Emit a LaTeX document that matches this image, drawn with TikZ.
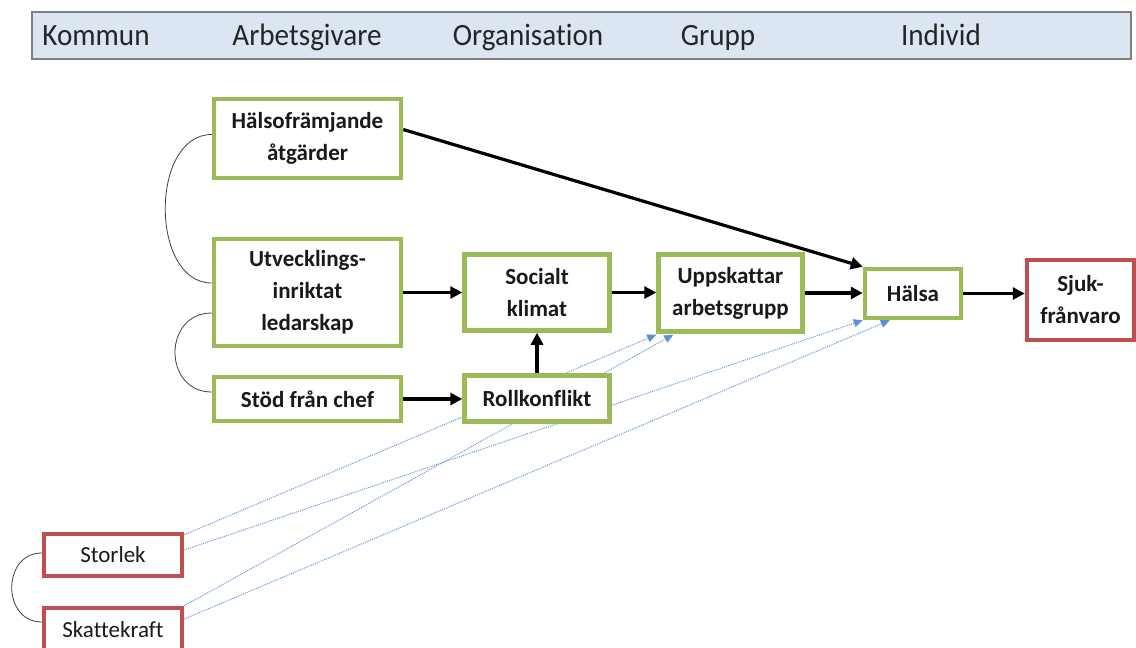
\documentclass[tikz,border=0pt]{standalone}
\usepackage{fontspec}
\setmainfont[Ligatures=NoCommon]{Carlito}
\newfontfamily\hdrfont[FakeStretch=0.94,Ligatures=NoCommon]{Carlito}
\usetikzlibrary{arrows.meta,backgrounds}
\definecolor{gbox}{HTML}{9BBB59}
\definecolor{rbox}{HTML}{C0504D}
\definecolor{hdrfill}{HTML}{DCE6F2}
\definecolor{hdrline}{HTML}{7F7F7F}
\definecolor{dotblue}{HTML}{5B8FD8}
\tikzset{
  gnode/.style={draw=gbox, line width=4.5pt, fill=white, align=center, inner sep=0pt,
    font=\bfseries\fontsize{23}{32}\selectfont, text=black!90},
  rnode/.style={draw=rbox, line width=4.5pt, fill=white, align=center, inner sep=0pt,
    font=\fontsize{23}{32}\selectfont, text=black!90},
  hdrtext/.style={font=\hdrfont\fontsize{31}{34}\selectfont, text=black!85, inner sep=0pt, anchor=base},
  conn/.style={line width=3.2pt, -{Triangle[length=12pt,width=12pt]}},
  dotconn/.style={dotblue, line width=0.9pt, dash pattern=on 1pt off 1pt,
    -{Triangle[length=9pt,width=8pt]}},
  corr/.style={line width=0.8pt, black!75},
}
\begin{document}
\begin{tikzpicture}[x=1pt,y=-1pt]
\useasboundingbox (0,0) rectangle (1136,648);
\clip (0,0) rectangle (1136,648);

% header bar
\node[draw=hdrline, fill=hdrfill, line width=1.2pt, minimum width=1099pt,
      minimum height=47pt, inner sep=0pt] (hdr) at (581.5,35.5) {};
\node[hdrtext] (h1) at (96,45) {Kommun};
\node[hdrtext] (h2) at (307,45) {Arbetsgivare};
\node[hdrtext] (h3) at (528,45) {Organisation};
\node[hdrtext] (h4) at (718,45) {Grupp};
\node[hdrtext] (h5) at (941,45) {Individ};

% boxes
\node[gnode, minimum width=187pt, minimum height=79pt] (halsofr) at (307.5,138.5) {Hälsofrämjande\\åtgärder};
\node[gnode, minimum width=187pt, minimum height=107pt] (utv) at (307.5,292.5) {Utvecklings-\\inriktat\\ledarskap};
\node[gnode, minimum width=187pt, minimum height=44pt] (stod) at (307.5,399) {Stöd från chef};
\node[gnode, minimum width=145pt, minimum height=76pt] (social) at (537,292.5) {Socialt\\klimat};
\node[gnode, minimum width=145pt, minimum height=46pt] (roll) at (537,398.5) {Rollkonflikt};
\node[gnode, minimum width=144pt, minimum height=77pt] (uppsk) at (730.5,293) {Uppskattar\\arbetsgrupp};
\node[gnode, minimum width=96pt, minimum height=49pt] (halsa) at (913,293.5) {Hälsa};
\node[rnode, font=\bfseries\fontsize{23}{32}\selectfont, minimum width=107pt, minimum height=80pt] (sjuk) at (1080.5,300) {Sjuk-\\frånvaro};
\node[rnode, minimum width=138pt, minimum height=42pt] (storlek) at (113,555) {Storlek};
\node[rnode, minimum width=138pt, minimum height=44pt] (skatt) at (113,630) {Skattekraft};

% dotted blue connectors (behind boxes)
\begin{scope}[on background layer]
\draw[dotconn] ([yshift=-3pt]storlek.north east) -- ([yshift=-1pt]uppsk.south west);
\draw[dotconn] ([yshift=5pt]storlek.east) -- (halsa.south west);
\draw[dotconn] (skatt.north east) -- ([xshift=17pt,yshift=-1pt]uppsk.south west);
\draw[dotconn] ([yshift=11pt]skatt.east) -- ([xshift=27pt]halsa.south west);
\end{scope}

% black arrows
\draw[conn] ([yshift=9pt]halsofr.east) -- (halsa.north west);
\draw[conn] (utv.east) -- (utv.east -| social.west);
\draw[conn] (stod.east) -- (stod.east -| roll.west);
\draw[conn] (roll.north) -- (social.south);
\draw[conn] (social.east) -- (social.east -| uppsk.west);
\draw[conn] (uppsk.east) -- (uppsk.east -| halsa.west);
\draw[conn] (halsa.east) -- (halsa.east -| sjuk.west);

% correlation curves
\draw[corr] ([yshift=4pt]halsofr.west) .. controls +(-62,0) and +(-62,0) .. ([yshift=9.5pt]utv.west);
\draw[corr] ([yshift=-20.5pt]utv.west) .. controls +(-49,0) and +(-49,0) .. ([yshift=7pt]stod.west);
\draw[corr] ([yshift=2pt]storlek.west) .. controls +(-40,0) and +(-40,0) .. ([yshift=8pt]skatt.west);
\end{tikzpicture}
\end{document}
